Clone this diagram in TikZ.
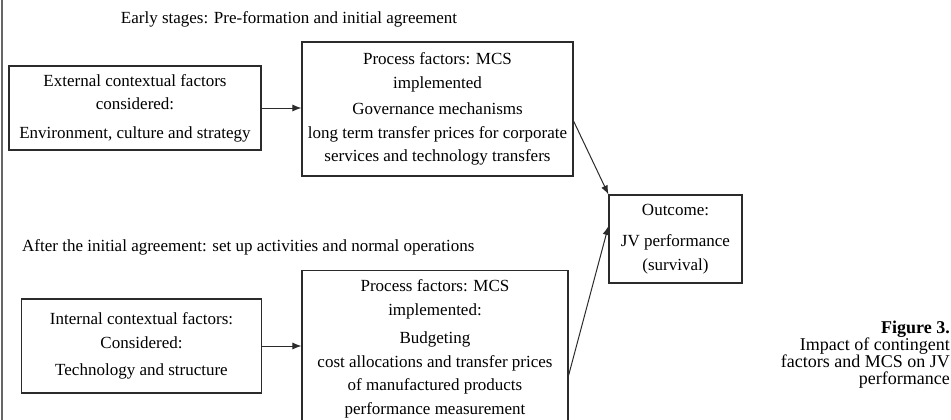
\documentclass[tikz,border=0pt]{standalone}
\usepackage{fontspec}
\setmainfont{Liberation Serif}
\usetikzlibrary{arrows.meta}
\definecolor{ink}{HTML}{2B2B2B}
\tikzset{
  box/.style={draw=ink, line width=1.1pt, align=center, inner sep=2pt, text=black,
    font=\fontsize{17}{23.5}\selectfont},
  lbl/.style={inner sep=0pt, text=black, font=\fontsize{17}{23.5}\selectfont},
  arr/.style={draw=ink, line width=1pt, -{Latex[length=9pt,width=7pt]}},
  figcap/.style={inner sep=0pt, align=right, text=black, font=\fontsize{18}{17}\selectfont}
}
\begin{document}
\begin{tikzpicture}[x=1pt,y=-1pt]
\useasboundingbox (0,0) rectangle (951,420);
\clip (0,0) rectangle (951,420);
\draw[gray!80!black, line width=1.5pt] (2,0) -- (2,420);

\node[lbl] (t1) at (289,19) {Early stages: Pre-formation and initial agreement};
\node[lbl, anchor=west] (t2) at (22,247) {After the initial agreement: set up activities and normal operations};

\node[box, minimum width=252pt, minimum height=84pt] (ext) at (135,108)
  {External contextual factors\\considered:\\[5pt]Environment, culture and strategy};
\node[box, minimum width=271pt, minimum height=134pt] (pt) at (437.5,109)
  {Process factors: MCS\\implemented\\[3pt]Governance mechanisms\\long term transfer prices for corporate\\services and technology transfers};
\node[box, minimum width=133pt, minimum height=88pt] (out) at (675.5,239)
  {Outcome:\\[8pt]JV performance\\(survival)};
\node[box, minimum width=240pt, minimum height=94pt] (int) at (141.5,346)
  {Internal contextual factors:\\Considered:\\[4pt]Technology and structure};
\node[box, minimum width=266pt, minimum height=170pt, anchor=north, inner xsep=6pt, inner ysep=9pt] (pb) at (435,270)
  {Process factors: MCS\\implemented:\\[5pt]Budgeting\\cost allocations and transfer prices\\of manufactured products\\performance measurement\\ };

\draw[arr] (ext.east) -- (ext.east -| pt.west);
\draw[arr] (int.east) -- (int.east -| pb.west);
\draw[arr] ([yshift=-12pt]pt.east) -- (out.north west);
\draw[arr] ([yshift=-17pt]pb.east) -- ([yshift=13pt]out.west);

\node[figcap, anchor=north east] (caption) at (950,321)
  {\textbf{Figure 3.}\\Impact of contingent\\factors and MCS on JV\\performance};
\end{tikzpicture}
\end{document}
